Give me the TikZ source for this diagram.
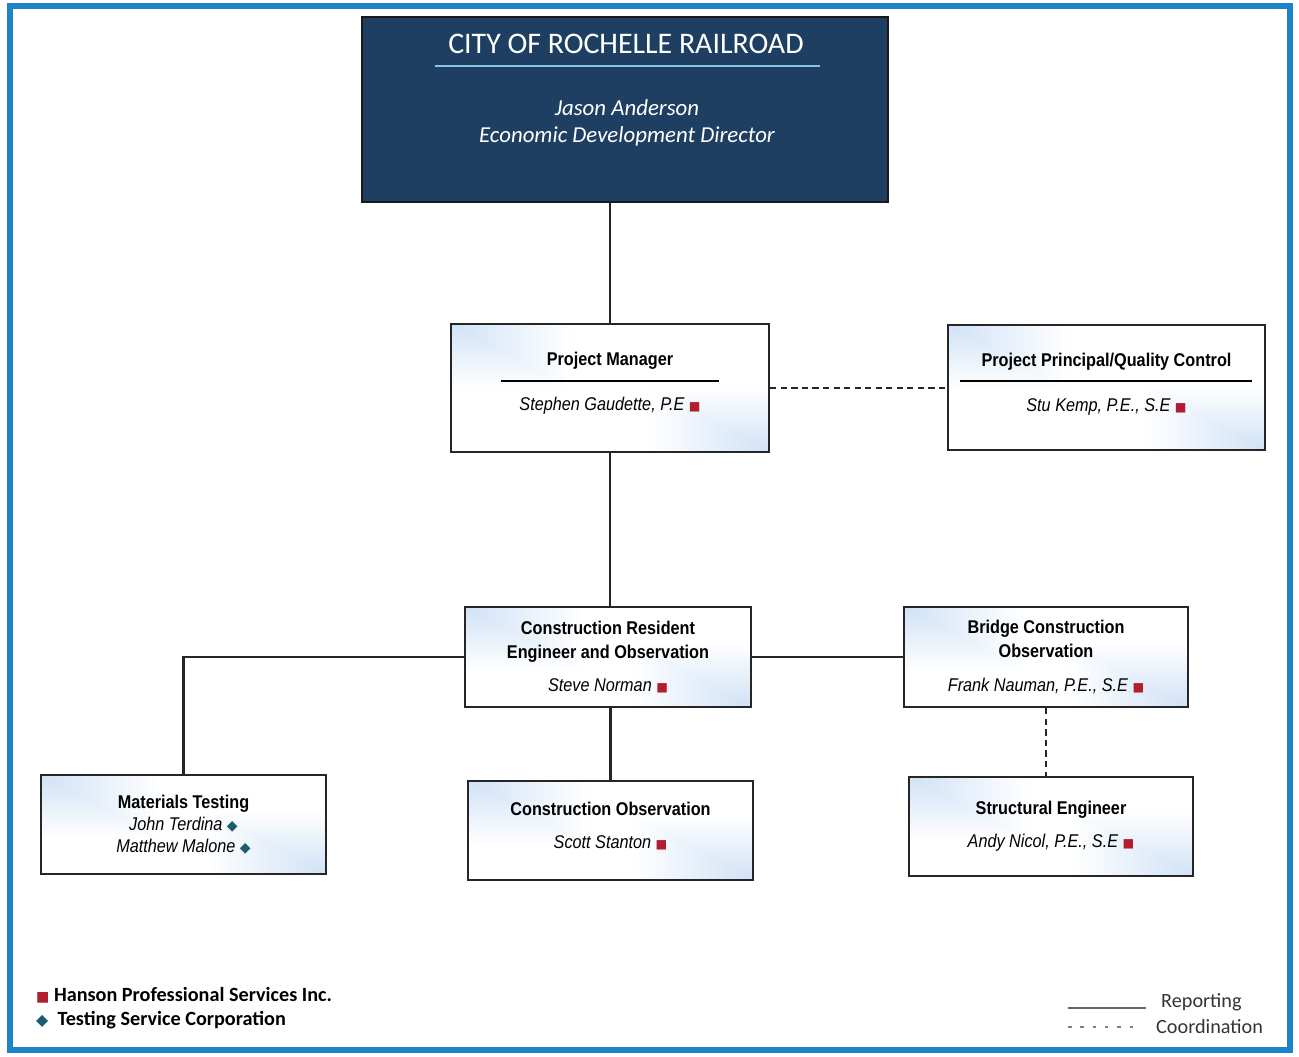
\documentclass[tikz,border=0pt]{standalone}
\usepackage{fontspec}
\setmainfont{Liberation Sans}
\newfontfamily\boxfont{Liberation Sans}[FakeStretch=0.88]
\newfontfamily\headfont{Carlito}
\newfontfamily\symfont{DejaVu Sans}
\usetikzlibrary{positioning}
\definecolor{frameblue}{RGB}{30,132,200}
\definecolor{navy}{RGB}{31,63,98}
\definecolor{rulblue}{RGB}{140,195,235}
\definecolor{hansonred}{RGB}{178,30,48}
\definecolor{tscteal}{RGB}{28,92,112}
\definecolor{boxblue}{RGB}{208,225,246}
\newcommand{\hsq}{~{\symfont\fontsize{7}{7}\selectfont\color{hansonred}■}}
\newcommand{\tdia}{~{\symfont\fontsize{8}{8}\selectfont\color{tscteal}◆}}
% stepped fade in two corners of a box
\newcommand{\cornerfade}{%
  \foreach \k in {16,...,1} {%
    \pgfmathtruncatemacro{\p}{100-6*\k}
    \fill[boxblue!\p!white] (path picture bounding box.north west) rectangle ++(\k*0.15cm,-\k*0.08cm);
    \fill[boxblue!\p!white] (path picture bounding box.south east) rectangle ++(-\k*0.15cm,\k*0.08cm);
  }}

\begin{document}
\begin{tikzpicture}[x=0.02cm, y=-0.02cm,
  box/.style={draw=black!85, line width=1.5pt, rectangle, inner sep=0pt, align=center,
    font=\boxfont\fontsize{10.5}{13.6}\selectfont, fill=white, path picture={\cornerfade}},
  link/.style={draw=black!85, line width=1.2pt},
  coord/.style={link, dash pattern=on 3.5pt off 2.5pt}]
\useasboundingbox (0,0) rectangle (1299,1057);
\draw[frameblue, line width=3.5pt] (10,6) rectangle (1290,1050);

% Boxes
\node[draw=black!90, line width=1.5pt, fill=navy, minimum width=10.52cm, minimum height=3.7cm] (top) at (625,109.5) {};
\node[text=white, font=\headfont\fontsize{17}{20}\selectfont] (city) at (626,44) {CITY OF ROCHELLE RAILROAD};
\node[text=white, align=center, font=\headfont\itshape\fontsize{13}{15.3}\selectfont] (director) at (627,123) {Jason Anderson\\Economic Development Director};
\draw[rulblue, line width=0.8pt] (435,66) -- (820,66);

\node[box, minimum width=6.36cm, minimum height=2.56cm, text depth=8pt] (pm) at (610,388)
  {\bfseries Project Manager\\[12pt]\itshape Stephen Gaudette, P.E\hsq};
\draw[line width=1.2pt] (501,381) -- (719,381);

\node[box, minimum width=6.34cm, minimum height=2.5cm, text depth=5.5pt] (qc) at (1106.5,387.5)
  {\bfseries Project Principal/Quality Control\\[12pt]\itshape Stu Kemp, P.E., S.E\hsq};
\draw[line width=1.2pt] (960,381) -- (1252,381);

\node[box, minimum width=5.72cm, minimum height=2cm] (cre) at (608,657)
  {\bfseries Construction Resident\\\bfseries Engineer and Observation\\[5.5pt]\itshape Steve Norman\hsq};
\node[box, minimum width=5.68cm, minimum height=2cm] (bco) at (1046,657)
  {\bfseries Bridge Construction\\\bfseries Observation\\[5.5pt]\itshape Frank Nauman, P.E., S.E\hsq};
\node[box, minimum width=5.7cm, minimum height=1.98cm, font=\boxfont\fontsize{10.5}{12.5}\selectfont] (mt) at (183.5,824.5)
  {\bfseries Materials Testing\\\itshape John Terdina\tdia\\\itshape Matthew Malone\tdia};
\node[box, minimum width=5.7cm, minimum height=1.98cm, text depth=6pt] (co) at (610.5,830.5)
  {\bfseries Construction Observation\\[5.5pt]\itshape Scott Stanton\hsq};
\node[box, minimum width=5.68cm, minimum height=1.98cm] (se) at (1051,826.5)
  {\bfseries Structural Engineer\\[5pt]\itshape Andy Nicol, P.E., S.E\hsq};

% Lines
\draw[link] (pm.north) -- (pm.north |- top.south);
\draw[link] (pm.south) -- (cre.north -| pm.south);
\draw[coord] (pm.east) -- (pm.east -| qc.west);
\draw[link] (cre.west) -- (cre.west -| mt.north) -- (mt.north);
\draw[link] (cre.east) -- (bco.west);
\draw[link] (co.north |- cre.south) -- (co.north);
\draw[coord] (bco.south) -- (bco.south |- se.north);

% Legend
\node[anchor=west, font=\headfont\bfseries\fontsize{11.5}{13}\selectfont] (hanson) at (30,995)
  {{\symfont\fontsize{8}{8}\selectfont\color{hansonred}■}\ Hanson Professional Services Inc.};
\node[anchor=west, font=\headfont\bfseries\fontsize{11.5}{13}\selectfont] (tsc) at (30,1020)
  {{\symfont\fontsize{9}{9}\selectfont\color{tscteal}◆}\ \ Testing Service Corporation};
\coordinate (rep1) at (1068,1008);
\coordinate (rep2) at (1146,1008);
\coordinate (coo1) at (1068,1027);
\coordinate (coo2) at (1138,1027);
\draw[black!60, line width=1pt] (rep1) -- (rep2);
\draw[black!50, line width=1pt, dash pattern=on 2pt off 5pt] (coo1) -- (coo2);
\node[anchor=west, text=black!80, font=\headfont\fontsize{11.5}{13}\selectfont] (reporting) at (1155,1002) {Reporting};
\node[anchor=west, text=black!80, font=\headfont\fontsize{11.5}{13}\selectfont] (coordination) at (1150,1027) {Coordination};
\end{tikzpicture}
\end{document}
